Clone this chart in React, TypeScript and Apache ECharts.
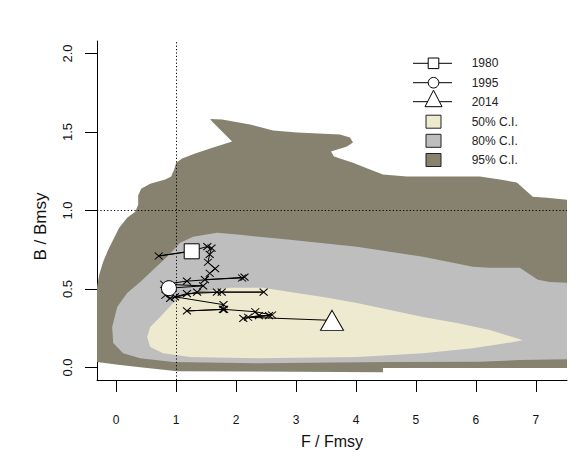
import React, { useEffect, useRef } from "react";
import * as echarts from "echarts";

// Stock trajectory, 1980-2014 (F/Fmsy, B/Bmsy)
const years = [
  1980, 1981, 1982, 1983, 1984, 1985, 1986, 1987, 1988, 1989,
  1990, 1991, 1992, 1993, 1994, 1995, 1996, 1997, 1998, 1999,
  2000, 2001, 2002, 2003, 2004, 2005, 2006, 2007, 2008, 2009,
  2010, 2011, 2012, 2013, 2014,
];
const fRatio = [
  1.26, 0.71, 1.22, 1.52, 1.59, 1.56, 1.53, 1.65, 1.56, 1.48,
  2.1, 2.14, 1.18, 0.8, 1.45, 0.88, 0.82, 0.9, 1.35, 1.68,
  2.46, 1.76, 1.18, 0.98, 1.79, 1.78, 1.18, 1.8, 2.32, 2.6,
  2.12, 2.38, 2.55, 2.2, 3.6,
];
const bRatio = [
  0.74, 0.71, 0.74, 0.77, 0.76, 0.72, 0.67, 0.63, 0.6, 0.56,
  0.57, 0.575, 0.55, 0.53, 0.52, 0.505, 0.46, 0.44, 0.48, 0.48,
  0.48, 0.48, 0.47, 0.45, 0.4, 0.37, 0.36, 0.37, 0.355, 0.334,
  0.313, 0.33, 0.33, 0.32, 0.3,
];

// Confidence regions of the final-year estimate
const ci95: [number, number][] = [
  [-0.32, 0.034], [-0.32, 0.513], [-0.283, 0.59], [-0.217, 0.673], [-0.133, 0.75],
  [-0.05, 0.813], [0.05, 0.89], [0.183, 0.954], [0.317, 0.992], [0.367, 1.037],
  [0.367, 1.095], [0.417, 1.139], [0.567, 1.171], [0.817, 1.197], [0.917, 1.216],
  [0.967, 1.261], [1.0, 1.305], [1.1, 1.331], [1.317, 1.363], [1.567, 1.395],
  [1.933, 1.44], [1.6, 1.567], [1.567, 1.583], [1.767, 1.58], [2.233, 1.548],
  [2.617, 1.51], [3.017, 1.497], [3.733, 1.484], [3.9, 1.465], [3.95, 1.433],
  [3.85, 1.408], [3.583, 1.376], [3.633, 1.344], [3.95, 1.305], [4.233, 1.261],
  [4.45, 1.229], [4.85, 1.216], [5.683, 1.216], [6.067, 1.216], [6.4, 1.197],
  [6.683, 1.178], [6.95, 1.088], [7.183, 1.082], [7.52, 1.069], [7.52, -0.004],
  [4.45, -0.004], [4.45, -0.03], [1.017, -0.024], [0.4, 0.002], [0.067, 0.015],
];
const ci80: [number, number][] = [
  [-0.05, 0.155], [-0.067, 0.258], [0.017, 0.385], [0.183, 0.475], [0.4, 0.545],
  [0.617, 0.622], [0.85, 0.705], [1.067, 0.794], [1.283, 0.833], [1.683, 0.858],
  [2.067, 0.845], [2.9, 0.813], [4.017, 0.769], [5.117, 0.705], [5.95, 0.641],
  [6.233, 0.635], [6.733, 0.635], [7.033, 0.558], [7.233, 0.545], [7.52, 0.539],
  [7.52, 0.053], [6.733, 0.047], [6.067, 0.037], [4.567, 0.034], [2.35, 0.027],
  [0.95, 0.034], [0.4, 0.059], [0.117, 0.091],
];
const ci50: [number, number][] = [
  [0.517, 0.194], [0.567, 0.258], [0.733, 0.321], [0.95, 0.411], [1.117, 0.449],
  [1.4, 0.481], [1.9, 0.507], [2.45, 0.507], [2.9, 0.481], [3.45, 0.449],
  [4.017, 0.411], [4.567, 0.366], [5.117, 0.321], [5.683, 0.283], [6.233, 0.238],
  [6.783, 0.174], [6.517, 0.155], [5.95, 0.123], [5.117, 0.091], [4.017, 0.066],
  [2.35, 0.059], [1.233, 0.066], [0.783, 0.091], [0.567, 0.13],
];

const xTicks = [0, 1, 2, 3, 4, 5, 6, 7];
const yTicks = [0, 0.5, 1, 1.5, 2];
const refLevels = { f: 1, b: 1 };

const FONT = "'Liberation Sans', Arial, sans-serif";
const C50 = "#EEEAD0";
const C80 = "#BEBEBE";
const C95 = "#86826F";

function regionSeries(name: string, pts: [number, number][], color: string, z: number) {
  return {
    type: "custom",
    name,
    coordinateSystem: "cartesian2d",
    clip: true,
    silent: true,
    z,
    data: [pts[0]],
    renderItem: (_params: any, api: any) => ({
      type: "polygon",
      shape: { points: pts.map((p) => api.coord(p)) },
      style: { fill: color, stroke: "none" },
    }),
  };
}

function legendRows() {
  const x0 = 413;
  const x1 = 452;
  const cx = 433.5;
  const tx = 471.7;
  const rows = [63.3, 82.7, 101.7, 121.7, 140.8, 160];
  const labels = [
    String(years[0]),
    String(years[15]),
    String(years[years.length - 1]),
    "50% C.I.",
    "80% C.I.",
    "95% C.I.",
  ];
  const els: any[] = [];
  for (let i = 0; i < 3; i++) {
    els.push({
      type: "line",
      shape: { x1: x0, y1: rows[i], x2: x1, y2: rows[i] },
      style: { stroke: "#000", lineWidth: 1 },
    });
  }
  els.push({
    type: "rect",
    shape: { x: cx - 5.3, y: rows[0] - 5.3, width: 10.6, height: 10.6 },
    style: { fill: "#fff", stroke: "#000", lineWidth: 1 },
  });
  els.push({
    type: "circle",
    shape: { cx, cy: rows[1], r: 5.3 },
    style: { fill: "#fff", stroke: "#000", lineWidth: 1 },
  });
  els.push({
    type: "polygon",
    shape: {
      points: [
        [cx, rows[2] - 11.5],
        [cx - 8.5, rows[2] + 5],
        [cx + 8.5, rows[2] + 5],
      ],
    },
    style: { fill: "#fff", stroke: "#000", lineWidth: 1 },
  });
  const fills = [C50, C80, C95];
  for (let i = 0; i < 3; i++) {
    els.push({
      type: "rect",
      shape: { x: 426, y: rows[3 + i] - 6.5, width: 15, height: 13 },
      style: { fill: fills[i], stroke: "#222", lineWidth: 1 },
    });
  }
  labels.forEach((t, i) => {
    els.push({
      type: "text",
      x: tx,
      y: rows[i],
      style: {
        text: t,
        fill: "#222",
        font: `12px ${FONT}`,
        textAlign: "left",
        textVerticalAlign: "middle",
      },
    });
  });
  return els;
}

export default function App() {
  const ref = useRef<HTMLDivElement>(null);

  useEffect(() => {
    if (!ref.current) return;
    const chart = echarts.init(ref.current, undefined, { renderer: "svg" });
    const traj = years.map((_, i) => [fRatio[i], bRatio[i]]);
    const last = years.length - 1;

    chart.setOption({
      animation: false,
      backgroundColor: "#fff",
      textStyle: { fontFamily: FONT },
      grid: {
        left: 97,
        right: 11,
        top: 41,
        bottom: 72,
        containLabel: false,
        outerBoundsMode: "none",
      },
      xAxis: {
        type: "value",
        min: -0.32,
        max: 7.52,
        axisLine: { show: true, onZero: false, lineStyle: { color: "#000", width: 1 } },
        axisTick: {
          show: true,
          inside: false,
          length: 12,
          customValues: xTicks,
          lineStyle: { color: "#000", width: 1 },
        },
        axisLabel: {
          customValues: xTicks,
          margin: 34,
          fontSize: 12,
          color: "#111",
          fontFamily: FONT,
        },
        splitLine: { show: false },
      },
      yAxis: {
        type: "value",
        min: -0.08,
        max: 2.08,
        axisLine: { show: true, onZero: false, lineStyle: { color: "#000", width: 1 } },
        axisTick: {
          show: true,
          inside: false,
          length: 12,
          customValues: yTicks,
          lineStyle: { color: "#000", width: 1 },
        },
        axisLabel: {
          customValues: yTicks,
          rotate: 90,
          margin: 23,
          fontSize: 13,
          color: "#111",
          fontFamily: FONT,
          formatter: (v: number) => v.toFixed(1),
        },
        splitLine: { show: false },
      },
      graphic: [
        {
          type: "text",
          x: 332,
          y: 441.7,
          style: {
            text: "F / Fmsy",
            fill: "#111",
            font: `16px ${FONT}`,
            textAlign: "center",
            textVerticalAlign: "middle",
          },
        },
        {
          type: "text",
          x: 40,
          y: 226.5,
          rotation: Math.PI / 2,
          style: {
            text: "B / Bmsy",
            fill: "#111",
            font: `17px ${FONT}`,
            textAlign: "center",
            textVerticalAlign: "middle",
          },
        },
        ...legendRows(),
      ],
      series: [
        regionSeries("95% C.I.", ci95, C95, 1),
        regionSeries("80% C.I.", ci80, C80, 2),
        regionSeries("50% C.I.", ci50, C50, 3),
        {
          type: "line",
          name: "reference",
          data: [],
          z: 4,
          silent: true,
          markLine: {
            silent: true,
            symbol: "none",
            label: { show: false },
            lineStyle: { color: "#000", width: 1, type: [1.2, 2.2] },
            data: [{ xAxis: refLevels.f }, { yAxis: refLevels.b }],
          },
        },
        {
          type: "line",
          name: "trajectory",
          data: traj,
          z: 5,
          silent: true,
          symbol: "path://M0,0L8,7M0,7L8,0",
          symbolSize: [8, 7],
          itemStyle: { color: "rgba(0,0,0,0)", borderColor: "#000", borderWidth: 1 },
          lineStyle: { color: "#000", width: 1 },
        },
        {
          type: "scatter",
          name: String(years[0]),
          data: [traj[0]],
          z: 6,
          symbol: "rect",
          symbolSize: 15,
          itemStyle: { color: "#fff", borderColor: "#000", borderWidth: 1, opacity: 1 },
        },
        {
          type: "scatter",
          name: String(years[15]),
          data: [traj[15]],
          z: 6,
          symbol: "circle",
          symbolSize: 15,
          itemStyle: { color: "#fff", borderColor: "#000", borderWidth: 1, opacity: 1 },
        },
        {
          type: "scatter",
          name: String(years[last]),
          data: [traj[last]],
          z: 6,
          symbol: "triangle",
          symbolSize: [23, 20],
          itemStyle: { color: "#fff", borderColor: "#000", borderWidth: 1, opacity: 1 },
        },
      ],
    });

    return () => chart.dispose();
  }, []);

  return (
    <div
      ref={ref}
      style={{ position: "fixed", left: 0, top: 0, width: 578, height: 452, background: "#fff" }}
    />
  );
}
